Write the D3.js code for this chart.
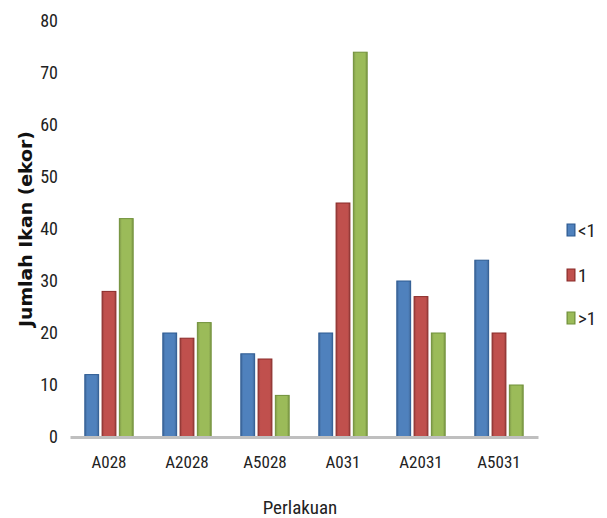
<!DOCTYPE html>
<html>
<head>
<meta charset="utf-8">
<script src="https://cdn.jsdelivr.net/npm/d3@7"></script>
<style>
  body { margin: 0; background: #fff; }
  .tick text { font-family: "Liberation Sans Narrow", "Roboto Condensed", "Roboto", sans-serif; }
</style>
</head>
<body>
<div id="chart"></div>
<script>
// Data
var categories = ["A028", "A2028", "A5028", "A031", "A2031", "A5031"];
var seriesNames = ["<1", "1", ">1"];
var lessThanOne = [12, 20, 16, 20, 30, 34];
var one = [28, 19, 15, 45, 27, 20];
var moreThanOne = [42, 22, 8, 74, 20, 10];
var yTicks = [0, 10, 20, 30, 40, 50, 60, 70, 80];

var seriesValues = [lessThanOne, one, moreThanOne];
var colors = ["#4F81BD", "#C0504D", "#9BBB59"];
var edges = ["#2c5a92", "#8a2a28", "#71913a"];
var narrowFont = "'Liberation Sans Narrow', 'Roboto Condensed', Roboto, sans-serif";

var width = 607, height = 518;

var svg = d3.select("#chart").append("svg")
    .attr("width", width)
    .attr("height", height);

// gradients to mimic the shaded bars
var defs = svg.append("defs");
colors.forEach(function (c, i) {
    var g = defs.append("linearGradient")
        .attr("id", "grad" + i)
        .attr("x1", "0%").attr("x2", "100%")
        .attr("y1", "0%").attr("y2", "0%");
    g.append("stop").attr("offset", "0%").attr("stop-color", d3.color(c).darker(0.6));
    g.append("stop").attr("offset", "18%").attr("stop-color", c);
    g.append("stop").attr("offset", "82%").attr("stop-color", c);
    g.append("stop").attr("offset", "100%").attr("stop-color", d3.color(c).darker(0.6));
});

// Scales
var x0 = d3.scaleBand().domain(categories).range([70, 538])
    .paddingInner(0.38).paddingOuter(0.19);
var x1 = d3.scaleBand().domain(seriesNames).range([0, x0.bandwidth()])
    .paddingInner(0.2);
var y = d3.scaleLinear().domain([0, 80]).range([437, 21]);

// Bars
var groups = svg.selectAll(".grp")
    .data(categories)
    .enter().append("g")
    .attr("class", "grp")
    .attr("transform", function (d) { return "translate(" + x0(d) + ",0)"; });

groups.selectAll("rect")
    .data(function (d, i) {
        return seriesNames.map(function (s, j) {
            return { s: s, j: j, v: seriesValues[j][i] };
        });
    })
    .enter().append("rect")
    .attr("x", function (d) { return x1(d.s); })
    .attr("y", function (d) { return y(d.v); })
    .attr("width", x1.bandwidth())
    .attr("height", function (d) { return y(0) - y(d.v); })
    .attr("fill", function (d) { return "url(#grad" + d.j + ")"; })
    .attr("stroke", function (d) { return edges[d.j]; })
    .attr("stroke-width", 1);

// X axis
var xAxis = svg.append("g")
    .attr("transform", "translate(0," + y(0) + ")")
    .call(d3.axisBottom(x0).tickSize(0).tickPadding(19));
xAxis.select(".domain")
    .attr("stroke", "#bfbfbf")
    .attr("stroke-width", 3);
xAxis.selectAll("text")
    .attr("font-size", 17)
    .attr("fill", "#222");

// Y axis (labels only)
var yAxis = svg.append("g")
    .attr("transform", "translate(58,0)")
    .call(d3.axisLeft(y).tickValues(yTicks).tickSize(0).tickPadding(0));
yAxis.select(".domain").remove();
yAxis.selectAll("text")
    .attr("font-size", 18)
    .attr("fill", "#222");

// Axis titles
svg.append("text")
    .attr("transform", "translate(32,229) rotate(-90)")
    .attr("text-anchor", "middle")
    .style("font-family", "'DejaVu Sans', Verdana, sans-serif")
    .attr("font-weight", "bold")
    .attr("font-size", 17)
    .attr("textLength", 196)
    .attr("lengthAdjust", "spacingAndGlyphs")
    .attr("fill", "#111")
    .text("Jumlah Ikan (ekor)");

svg.append("text")
    .attr("x", 300)
    .attr("y", 514)
    .attr("text-anchor", "middle")
    .style("font-family", narrowFont)
    .attr("font-size", 19)
    .attr("fill", "#222")
    .text("Perlakuan");

// Legend
var legend = svg.selectAll(".legend")
    .data(seriesNames)
    .enter().append("g")
    .attr("class", "legend")
    .attr("transform", function (d, i) { return "translate(567," + [230, 275, 318][i] + ")"; });

legend.append("rect")
    .attr("x", 0).attr("y", -6)
    .attr("width", 8).attr("height", 12)
    .attr("fill", function (d, i) { return "url(#grad" + i + ")"; })
    .attr("stroke", function (d, i) { return edges[i]; });

legend.append("text")
    .attr("x", 11)
    .attr("y", 7)
    .style("font-family", narrowFont)
    .attr("font-size", 19)
    .attr("fill", "#222")
    .text(function (d) { return d; });
</script>
</body>
</html>
